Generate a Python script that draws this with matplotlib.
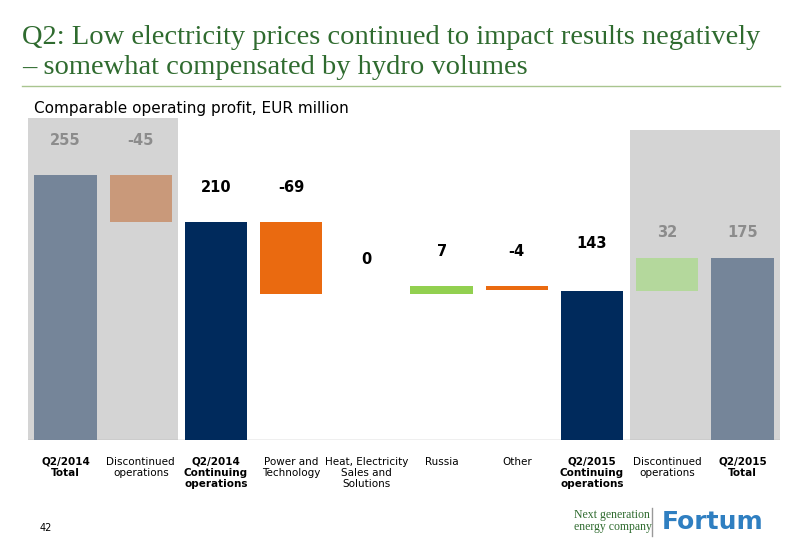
import matplotlib
matplotlib.use("Agg")
import matplotlib.pyplot as plt
from matplotlib.patches import Rectangle

categories = ["Q2/2014\nTotal", "Discontinued\noperations", "Q2/2014\nContinuing\noperations",
              "Power and\nTechnology", "Heat, Electricity\nSales and\nSolutions", "Russia", "Other",
              "Q2/2015\nContinuing\noperations", "Discontinued\noperations", "Q2/2015\nTotal"]
bold_cat = [True, False, True, False, False, False, False, True, False, True]
bottoms = [0, 210, 0, 141, 141, 141, 144, 0, 143, 0]
heights = [255, 45, 210, 69, 0, 7, 4, 143, 32, 175]
labels = ["255", "-45", "210", "-69", "0", "7", "-4", "143", "32", "175"]
colors = ["#758599", "#c9997a", "#002a5c", "#ea6a10", "#ea6a10", "#92d050", "#ea6a10",
          "#002a5c", "#b4d89c", "#758599"]
label_gray = [True, True, False, False, False, False, False, False, True, True]

W, H = 800, 554
fig = plt.figure(figsize=(8, 5.54), dpi=100)
fig.patch.set_facecolor("white")

def fx(px): return px / W
def fy(py): return 1 - py / H

fig.text(fx(22), fy(38), "Q2: Low electricity prices continued to impact results negatively",
         family="Liberation Serif", fontsize=20.5, color="#2f6b2f", va="center")
fig.text(fx(22), fy(68), "– somewhat compensated by hydro volumes",
         family="Liberation Serif", fontsize=20.5, color="#2f6b2f", va="center")
fig.add_artist(plt.Line2D([fx(22), fx(780)], [fy(86), fy(86)], color="#a9c58f", lw=1))
fig.text(fx(34), fy(108), "Comparable operating profit, EUR million", fontsize=11, va="center")

ax = fig.add_axes([fx(28), fy(440), fx(780) - fx(28), (440 - 118) / H])
ax.set_xlim(-0.5, 9.5)
ax.set_ylim(0, 310)
ax.axis("off")
ax.add_patch(Rectangle((-0.5, 0), 2, 310, color="#d4d4d4", zorder=0, lw=0))
ax.add_patch(Rectangle((7.5, 0), 2, 298, color="#d4d4d4", zorder=0, lw=0))
ax.axhline(0, color="#b0b0b0", lw=1)

for i in range(len(categories)):
    if heights[i] > 0:
        ax.bar(i, heights[i], bottom=bottoms[i], width=0.83, color=colors[i], zorder=2)
    top = bottoms[i] + heights[i]
    if i in (0, 1):
        ly = 288
    elif i in (8, 9):
        ly = 200
    elif i == 7:
        ly = top + 46
    else:
        ly = top + 33
    ax.text(i, ly, labels[i], ha="center", va="center", fontsize=10.5, fontweight="bold",
            color="#8c8c8c" if label_gray[i] else "black")
    ax.text(i, -16, categories[i], ha="center", va="top", fontsize=7.5,
            fontweight="bold" if bold_cat[i] else "normal", linespacing=1.15)

fig.text(fx(40), fy(528), "42", fontsize=7, va="center")
fig.text(fx(574), fy(521), "Next generation\nenergy company", family="Liberation Serif",
         fontsize=8.5, color="#2f6b2f", va="center", linespacing=1.1)
fig.add_artist(plt.Line2D([fx(652), fx(652)], [fy(508), fy(536)], color="#999999", lw=1))
fig.text(fx(662), fy(522), "Fortum", fontsize=18, fontweight="bold", color="#2f7fc1", va="center")

fig.savefig("out.png", dpi=100)
